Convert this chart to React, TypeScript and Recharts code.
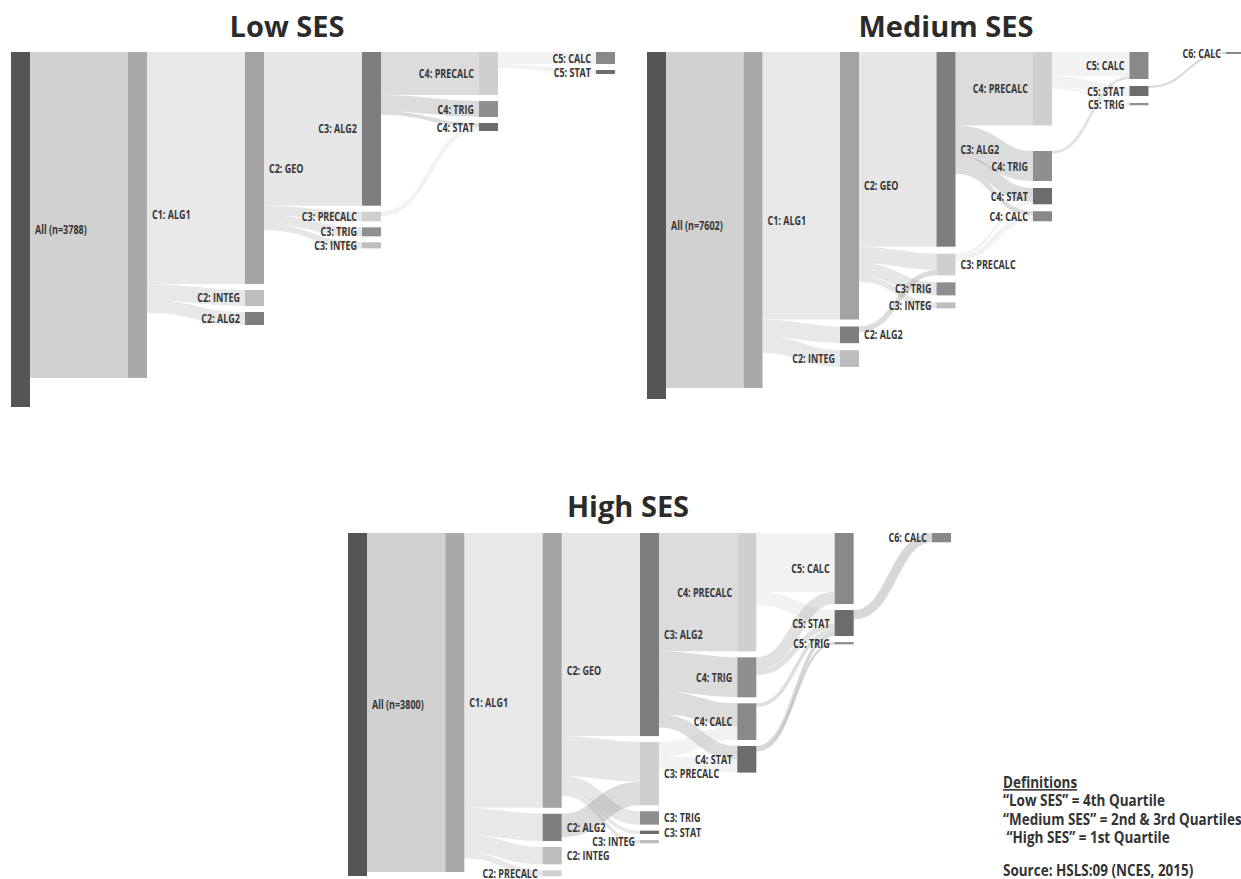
import React from 'react';
import { Sankey } from 'recharts';

type Flow = [string, string, number];

// Low SES
const lowTotal = 3788;
const lowNodes = [
  'All (n=3788)', 'C1: ALG1',
  'C2: GEO', 'C2: INTEG', 'C2: ALG2',
  'C3: ALG2', 'C3: PRECALC', 'C3: TRIG', 'C3: INTEG',
  'C4: PRECALC', 'C4: TRIG', 'C4: STAT',
  'C5: CALC', 'C5: STAT',
];
const lowFlows: Flow[] = [
  ['All (n=3788)', 'C1: ALG1', 3478],
  ['C1: ALG1', 'C2: GEO', 2475],
  ['C1: ALG1', 'C2: INTEG', 171],
  ['C1: ALG1', 'C2: ALG2', 139],
  ['C2: GEO', 'C3: ALG2', 1640],
  ['C2: GEO', 'C3: PRECALC', 103],
  ['C2: GEO', 'C3: TRIG', 96],
  ['C2: GEO', 'C3: INTEG', 64],
  ['C3: ALG2', 'C4: PRECALC', 459],
  ['C3: ALG2', 'C4: TRIG', 171],
  ['C3: ALG2', 'C4: STAT', 40],
  ['C3: PRECALC', 'C4: STAT', 45],
  ['C4: PRECALC', 'C5: CALC', 128],
  ['C4: PRECALC', 'C5: STAT', 43],
];
const lowRightLabels = ['All (n=3788)', 'C1: ALG1', 'C2: GEO'];

// Medium SES
const medTotal = 7602;
const medNodes = [
  'All (n=7602)', 'C1: ALG1',
  'C2: GEO', 'C2: ALG2', 'C2: INTEG',
  'C3: ALG2', 'C3: PRECALC', 'C3: TRIG', 'C3: INTEG',
  'C4: PRECALC', 'C4: TRIG', 'C4: STAT', 'C4: CALC',
  'C5: CALC', 'C5: STAT', 'C5: TRIG',
  'C6: CALC',
];
const medFlows: Flow[] = [
  ['All (n=7602)', 'C1: ALG1', 7361],
  ['C1: ALG1', 'C2: GEO', 5860],
  ['C1: ALG1', 'C2: ALG2', 366],
  ['C1: ALG1', 'C2: INTEG', 366],
  ['C2: GEO', 'C3: ALG2', 4265],
  ['C2: GEO', 'C3: PRECALC', 355],
  ['C2: GEO', 'C3: TRIG', 285],
  ['C2: GEO', 'C3: INTEG', 131],
  ['C2: ALG2', 'C3: PRECALC', 120],
  ['C3: ALG2', 'C4: PRECALC', 1610],
  ['C3: ALG2', 'C4: TRIG', 657],
  ['C3: ALG2', 'C4: STAT', 300],
  ['C3: ALG2', 'C4: CALC', 100],
  ['C3: PRECALC', 'C4: STAT', 57],
  ['C3: PRECALC', 'C4: CALC', 119],
  ['C4: PRECALC', 'C5: CALC', 531],
  ['C4: PRECALC', 'C5: STAT', 219],
  ['C4: PRECALC', 'C5: TRIG', 50],
  ['C4: TRIG', 'C5: CALC', 60],
  ['C5: STAT', 'C6: CALC', 44],
];
const medRightLabels = ['All (n=7602)', 'C1: ALG1', 'C2: GEO', 'C2: ALG2', 'C3: ALG2', 'C3: PRECALC'];

// High SES
const highTotal = 3800;
const highNodes = [
  'All (n=3800)', 'C1: ALG1',
  'C2: GEO', 'C2: ALG2', 'C2: INTEG', 'C2: PRECALC',
  'C3: ALG2', 'C3: PRECALC', 'C3: TRIG', 'C3: STAT', 'C3: INTEG',
  'C4: PRECALC', 'C4: TRIG', 'C4: CALC', 'C4: STAT',
  'C5: CALC', 'C5: STAT', 'C5: TRIG',
  'C6: CALC',
];
const highFlows: Flow[] = [
  ['All (n=3800)', 'C1: ALG1', 3756],
  ['C1: ALG1', 'C2: GEO', 3044],
  ['C1: ALG1', 'C2: ALG2', 302],
  ['C1: ALG1', 'C2: INTEG', 192],
  ['C1: ALG1', 'C2: PRECALC', 66],
  ['C2: GEO', 'C3: ALG2', 2250],
  ['C2: GEO', 'C3: PRECALC', 440],
  ['C2: GEO', 'C3: TRIG', 148],
  ['C2: GEO', 'C3: STAT', 37],
  ['C2: GEO', 'C3: INTEG', 37],
  ['C2: ALG2', 'C3: PRECALC', 260],
  ['C3: ALG2', 'C4: PRECALC', 1311],
  ['C3: ALG2', 'C4: TRIG', 443],
  ['C3: ALG2', 'C4: CALC', 250],
  ['C3: ALG2', 'C4: STAT', 150],
  ['C3: PRECALC', 'C4: CALC', 156],
  ['C3: PRECALC', 'C4: STAT', 145],
  ['C4: PRECALC', 'C5: CALC', 650],
  ['C4: PRECALC', 'C5: STAT', 150],
  ['C4: TRIG', 'C5: CALC', 137],
  ['C4: TRIG', 'C5: STAT', 60],
  ['C4: CALC', 'C5: STAT', 40],
  ['C4: STAT', 'C5: STAT', 38],
  ['C4: STAT', 'C5: TRIG', 26],
  ['C5: STAT', 'C6: CALC', 103],
];
const highRightLabels = [
  'All (n=3800)', 'C1: ALG1', 'C2: GEO', 'C2: ALG2', 'C2: INTEG',
  'C3: ALG2', 'C3: PRECALC', 'C3: TRIG', 'C3: STAT',
];

const definitions = [
  '\u201cLow SES\u201d = 4th Quartile',
  '\u201cMedium SES\u201d = 2nd & 3rd Quartiles',
  ' \u201cHigh SES\u201d = 1st Quartile',
];

// empty room left in a column (in students), drawn as an invisible node
const medGaps = [{ after: 'C4: PRECALC', size: 252 }];

const courseColors: Record<string, string> = {
  All: '#555557',
  ALG1: '#a9a9ab',
  GEO: '#a3a3a5',
  ALG2: '#7e7e80',
  PRECALC: '#cfcfd0',
  TRIG: '#8f8f91',
  INTEG: '#bdbdbf',
  STAT: '#6c6c6e',
  CALC: '#89898b',
};

const colorOf = (name: string) =>
  name.startsWith('All') ? courseColors.All : courseColors[name.split(': ')[1]] || '#999';

const colOf = (name: string) => (name.startsWith('All') ? 0 : Number(name.slice(1, name.indexOf(':'))));

// students who stop taking math are routed through hidden "drop" nodes so
// every course stays in its own column and bars keep their true size
function buildData(total: number, names: string[], flows: Flow[], gaps: { after: string; size: number }[]) {
  const maxCol = Math.max(...names.map(colOf));
  const nodes: any[] = [];
  names.forEach((name) => {
    nodes.push({ name, hidden: false, col: colOf(name) });
    gaps.filter((g) => g.after === name).forEach((g) => {
      nodes.push({ name: `gap-${name}`, hidden: true, col: colOf(name), size: g.size });
    });
  });
  for (let c = 1; c <= maxCol; c++) nodes.push({ name: `drop-${c}`, hidden: true, col: c });
  const idx = (n: string) => nodes.findIndex((d) => d.name === n);
  const links: any[] = flows.map(([s, t, v]) => ({ source: idx(s), target: idx(t), value: v }));
  const inflow = (n: string) => (n === names[0] ? total : flows.filter((f) => f[1] === n).reduce((a, f) => a + f[2], 0));
  const outflow = (n: string) => flows.filter((f) => f[0] === n).reduce((a, f) => a + f[2], 0);
  const gapNodes = nodes.filter((d) => d.size);
  let carry = 0;
  for (let c = 0; c < maxCol; c++) {
    let next = 0;
    names.filter((n) => colOf(n) === c).forEach((n) => {
      const drop = inflow(n) - outflow(n);
      if (drop > 0) {
        links.push({ source: idx(n), target: idx(`drop-${c + 1}`), value: drop });
        next += drop;
      }
    });
    gapNodes.filter((g) => g.col === c).forEach((g) => {
      links.push({ source: idx(g.name), target: idx(`drop-${c + 1}`), value: g.size });
      next += g.size;
    });
    if (c > 0) {
      let rest = carry;
      gapNodes.filter((g) => g.col === c + 1).forEach((g) => {
        links.push({ source: idx(`drop-${c}`), target: idx(g.name), value: g.size });
        rest -= g.size;
      });
      if (rest > 0) {
        links.push({ source: idx(`drop-${c}`), target: idx(`drop-${c + 1}`), value: rest });
        next += rest;
      }
    }
    carry = next;
  }
  let maxNodes = 1;
  for (let c = 0; c <= maxCol; c++) maxNodes = Math.max(maxNodes, nodes.filter((d) => d.col === c).length);
  return { data: { nodes, links }, maxNodes };
}

const labelFont = "'Open Sans', 'DejaVu Sans', sans-serif";

const renderLink = (p: any) => {
  const { source, target } = p.payload;
  if (source.hidden || target.hidden) return <g />;
  return (
    <path
      d={`M${p.sourceX},${p.sourceY}C${p.sourceControlX},${p.sourceY} ${p.targetControlX},${p.targetY} ${p.targetX},${p.targetY}`}
      fill="none"
      stroke={colorOf(source.name)}
      strokeWidth={p.linkWidth}
      strokeOpacity={0.27}
    />
  );
};

const makeNode = (rightLabels: string[]) => (p: any) => {
  const { x, y, width, height, payload } = p;
  if (payload.hidden) return <g />;
  const right = rightLabels.includes(payload.name);
  const tx = right ? x + width + 5 : x - 5;
  return (
    <g>
      <rect x={x} y={y} width={width} height={Math.max(height, 2)} fill={colorOf(payload.name)} />
      <text
        transform={`translate(${tx},${y + height / 2}) scale(0.75,1)`}
        textAnchor={right ? 'start' : 'end'}
        dominantBaseline="central"
        fontSize={12}
        fontWeight={700}
        fontFamily={labelFont}
        fill="#363636"
      >
        {payload.name}
      </text>
    </g>
  );
};

const MARGIN_TOP = 14;

const Flow = ({ total, names, flows, gaps = [], right, left, top, width, allPx, pad }: any) => {
  const { data, maxNodes } = buildData(total, names, flows, gaps);
  const height = allPx + (maxNodes - 1) * pad;
  return (
    <div style={{ position: 'absolute', left, top: top - MARGIN_TOP }}>
      <Sankey
        width={width}
        height={height + MARGIN_TOP}
        data={data}
        nodeWidth={19}
        nodePadding={pad}
        iterations={0}
        linkCurvature={0.5}
        margin={{ top: MARGIN_TOP, right: 0, bottom: 0, left: 0 }}
        node={makeNode(right)}
        link={renderLink}
      />
    </div>
  );
};

const Title = ({ x, y, children }: any) => (
  <text x={x} y={y} textAnchor="middle" fontSize={29} fontWeight={700} fontFamily="'Open Sans', sans-serif" fill="#2b2b2b">
    {children}
  </text>
);

const condensed = (x: number, y: number) => `translate(${x},${y}) scale(0.87,1)`;

export default function App() {
  return (
    <div style={{ position: 'absolute', left: 0, top: 0, width: 1241, height: 879, overflow: 'hidden', background: '#fff' }}>
      <Flow total={lowTotal} names={lowNodes} flows={lowFlows} right={lowRightLabels} left={11} top={52} width={604} allPx={355} pad={6} />
      <Flow total={medTotal} names={medNodes} flows={medFlows} gaps={medGaps} right={medRightLabels} left={647} top={52} width={598} allPx={347} pad={7} />
      <Flow total={highTotal} names={highNodes} flows={highFlows} right={highRightLabels} left={348} top={533} width={603} allPx={343} pad={6} />
      <svg width={1241} height={879} style={{ position: 'absolute', left: 0, top: 0, pointerEvents: 'none' }}>
        <Title x={287} y={37}>Low SES</Title>
        <Title x={946} y={37}>Medium SES</Title>
        <Title x={628} y={517}>High SES</Title>
        <g fontSize={15.5} fontWeight={700} fontFamily={labelFont} fill="#333">
          <text transform={condensed(1003, 788)} textDecoration="underline">Definitions</text>
          {definitions.map((d, i) => (
            <text key={d} transform={condensed(1003, 806 + i * 18.5)} style={{ whiteSpace: 'pre' }}>
              {d}
            </text>
          ))}
          <text transform={condensed(1003, 876)}>Source: HSLS:09 (NCES, 2015)</text>
        </g>
      </svg>
    </div>
  );
}
